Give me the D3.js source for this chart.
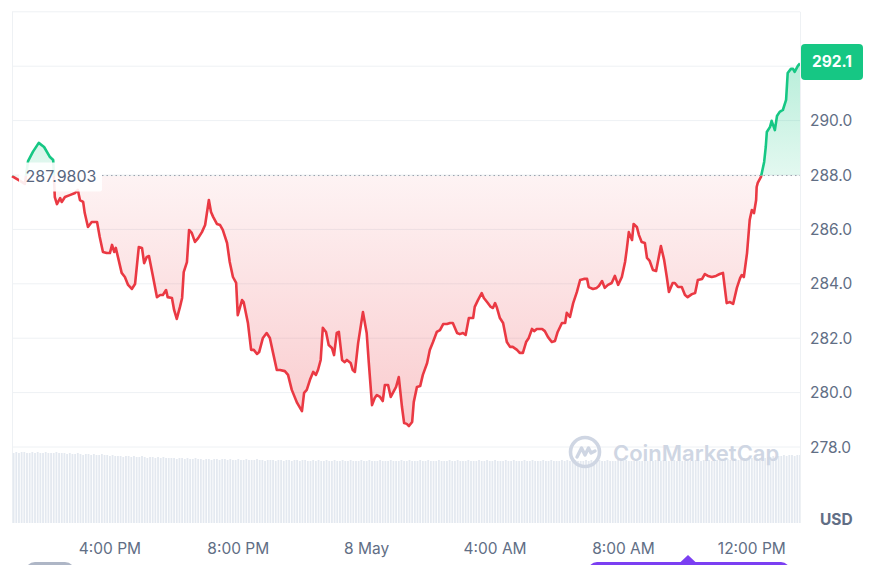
<!DOCTYPE html>
<html><head><meta charset="utf-8">
<script src="https://cdn.jsdelivr.net/npm/d3@7"></script>
<style>
html,body{margin:0;padding:0;background:#fff;}
svg{display:block;font-family:Inter,"Noto Sans",sans-serif;}
</style></head><body>
<svg id="chart" width="876" height="565"></svg>
<script>
// minutes after 7 May 12:00
const minutes = [57,72,81,87,96,107,117,128,134,137,141,147,150,156,165,175,180,184,190,193,199,206,216,221,227,234,240,244,248,251,255,262,268,274,281,287,294,300,304,309,313,320,328,334,339,345,348,356,360,365,371,375,378,384,388,393,399,405,412,418,425,429,433,440,446,451,459,464,470,476,479,487,490,498,504,509,515,519,526,533,539,545,552,558,567,573,580,590,599,603,608,614,620,625,629,634,638,644,649,655,659,664,668,674,679,683,690,694,698,704,713,720,724,730,735,739,745,750,754,760,765,769,775,780,786,790,795,799,805,808,814,820,825,833,838,844,851,857,863,870,876,881,889,894,900,905,911,919,922,928,935,939,945,952,956,960,963,969,975,982,988,993,1001,1006,1012,1018,1023,1029,1033,1038,1048,1053,1059,1066,1072,1077,1085,1091,1094,1100,1106,1113,1119,1126,1132,1135,1143,1150,1154,1160,1165,1171,1178,1184,1190,1197,1203,1206,1210,1216,1219,1225,1229,1234,1240,1244,1249,1255,1261,1270,1276,1281,1285,1292,1296,1302,1309,1315,1320,1328,1334,1339,1347,1352,1358,1365,1373,1380,1386,1393,1399,1405,1412,1418,1421,1425,1431,1436,1440,1444,1448,1449,1451,1457,1459,1463,1466,1468,1474,1477,1483,1487,1492,1498,1504,1507,1513,1517,1520,1526,1530];
const prices = [287.96,287.78,287.67,288.51,288.85,289.18,289.03,288.66,288.55,287.19,286.93,287.15,287.01,287.19,287.26,287.34,287.45,287.08,287.01,286.60,286.09,286.27,286.27,285.72,285.17,285.13,285.13,285.43,285.17,285.32,284.99,284.40,284.25,283.96,283.81,283.99,285.35,285.32,284.76,284.99,285.02,284.32,283.51,283.59,283.59,283.77,283.51,283.48,283.04,282.71,283.15,283.48,284.43,284.80,285.98,285.87,285.54,285.68,285.90,286.16,287.08,286.64,286.46,286.20,286.16,285.98,285.50,284.80,284.25,284.03,282.85,283.40,283.33,282.56,281.57,281.57,281.42,281.49,282.01,282.19,282.01,281.46,280.83,280.83,280.79,280.65,280.10,279.62,279.32,279.99,280.10,280.47,280.76,280.65,280.83,281.20,282.38,282.23,281.75,281.64,281.38,282.19,282.23,281.20,281.12,281.20,281.09,280.83,280.76,281.82,282.96,282.19,281.09,279.54,279.80,279.91,279.84,279.69,280.28,280.28,279.84,279.99,280.21,280.57,279.47,278.88,278.85,278.77,278.92,279.65,280.21,280.24,280.65,281.09,281.57,281.86,282.23,282.30,282.52,282.52,282.56,282.56,282.19,282.15,282.19,282.12,282.74,282.74,283.15,283.40,283.66,283.48,283.33,283.15,283.11,283.29,283.15,282.74,282.56,281.86,281.68,281.68,281.57,281.46,281.46,281.86,282.01,282.34,282.26,282.34,282.34,282.26,282.04,281.86,281.90,282.23,282.56,282.56,282.93,282.78,283.29,283.70,284.14,284.18,284.18,283.88,283.81,283.85,283.92,284.10,283.85,283.96,284.03,284.29,283.96,284.25,284.80,285.24,285.90,285.61,286.20,286.09,285.79,285.54,285.50,284.95,284.84,284.51,284.47,285.39,284.88,284.25,283.70,284.03,284.03,283.88,283.88,283.59,283.51,283.62,283.66,284.14,284.18,284.36,284.29,284.25,284.29,284.36,284.40,283.29,283.33,283.26,283.85,284.21,284.32,284.25,285.13,286.35,286.71,286.60,287.08,287.56,287.71,287.93,288.11,288.48,289.03,289.58,289.77,289.99,289.65,290.17,290.32,290.39,290.76,291.75,291.90,291.90,291.79,292.01,292.10];
// volume bars, every 5 minutes starting at minute 55
const volumes = [
71,70,71,70,71,71,70,70,71,70,71,70,70,71,70,70,70,71,70,70,
70,69,70,69,69,70,69,68,69,69,68,69,68,68,69,68,68,67,68,67,
67,67,66,67,67,66,67,66,66,67,66,65,66,66,65,66,65,66,65,65,
65,65,64,65,65,64,65,64,64,65,64,64,63,64,64,63,64,64,63,64,
64,63,64,63,63,64,63,63,64,63,63,63,64,63,63,62,63,63,63,62,
63,63,62,63,63,62,63,63,62,63,63,62,62,63,62,63,62,62,63,62,
62,63,62,62,63,62,62,63,62,62,62,63,62,62,63,62,62,62,63,62,
62,62,63,62,62,62,63,62,62,63,62,62,62,63,62,62,63,62,62,62,
63,62,62,62,63,62,62,63,62,62,62,63,62,62,62,63,62,62,63,62,
62,63,62,62,62,63,62,62,63,62,62,62,63,62,62,63,62,62,62,63,
62,62,63,62,62,62,63,62,63,62,62,63,62,62,62,63,62,63,62,62,
63,62,62,63,62,62,62,63,62,62,63,62,62,62,63,62,62,63,62,62,
62,63,62,62,63,62,62,62,63,62,63,62,62,63,62,62,63,63,62,63,
63,63,62,63,63,64,63,63,64,63,64,64,63,64,65,64,65,65,64,65,
65,66,65,66,66,67,66,67,67,68,67,68,68,67,68,68];
const volStart = 55, volStep = 5;
const baseline = 287.9803;
const lastPrice = 292.1;
const priceTicks = [278,280,282,284,286,288,290];
const gridTicks = [278,280,282,284,286,288,290,292,294];
const timeTickMinutes = [240,480,720,960,1200,1440];

const RED = "#ea3943", GREEN = "#16c784", TXT = "#616e85";
const svg = d3.select("#chart");
const t0 = new Date(2024,4,7,12,0);
const toDate = m => new Date(t0.getTime() + m*60000);
const data = minutes.map((m,i)=>({t:toDate(m), v:prices[i]})).filter(d=>d.v!==undefined);

const x = d3.scaleTime().domain([toDate(57), toDate(1530)]).range([12,800]);
const y = d3.scaleLinear().domain([278,294]).range([447,11.8]);
const yv = d3.scaleLinear().domain([0,70]).range([523,453]);
const yb = y(baseline);

const defs = svg.append("defs");
const gR = defs.append("linearGradient").attr("id","gRed").attr("gradientUnits","userSpaceOnUse")
  .attr("x1",0).attr("x2",0).attr("y1",yb).attr("y2",y(278.8));
gR.append("stop").attr("offset",0).attr("stop-color",RED).attr("stop-opacity",0.06);
gR.append("stop").attr("offset",1).attr("stop-color",RED).attr("stop-opacity",0.26);
const gG = defs.append("linearGradient").attr("id","gGreen").attr("gradientUnits","userSpaceOnUse")
  .attr("x1",0).attr("x2",0).attr("y1",y(292.1)).attr("y2",yb);
gG.append("stop").attr("offset",0).attr("stop-color",GREEN).attr("stop-opacity",0.3);
gG.append("stop").attr("offset",1).attr("stop-color",GREEN).attr("stop-opacity",0.12);
defs.append("clipPath").attr("id","cAbove").append("rect").attr("x",0).attr("y",0).attr("width",800).attr("height",yb);
defs.append("clipPath").attr("id","cBelow").append("rect").attr("x",0).attr("y",yb).attr("width",800).attr("height",565-yb);
defs.append("clipPath").attr("id","cPlot").append("rect").attr("x",12).attr("y",0).attr("width",788).attr("height",565);

// grid
svg.append("g").selectAll("line").data(gridTicks).join("line")
  .attr("x1",12).attr("x2",800).attr("y1",d=>y(d)).attr("y2",d=>y(d))
  .attr("stroke","#eef1f4").attr("stroke-width",1);
svg.append("line").attr("x1",12.5).attr("x2",12.5).attr("y1",y(294)).attr("y2",523).attr("stroke","#eef1f4");
svg.append("line").attr("x1",800.5).attr("x2",800.5).attr("y1",y(294)).attr("y2",523).attr("stroke","#eef1f4");

// volume
svg.append("g").attr("clip-path","url(#cPlot)").selectAll("rect").data(volumes).join("rect")
  .attr("x",(d,i)=>x(toDate(volStart+volStep*i))-0.9)
  .attr("width",1.8)
  .attr("y",d=>yv(d)).attr("height",d=>523-yv(d))
  .attr("fill","#e4e9f0");

// watermark
const wm = svg.append("g").attr("transform","translate(585,452)");
wm.append("circle").attr("r",14.5).attr("fill","none").attr("stroke","#cfd6e3").attr("stroke-width",3.6);
wm.append("path").attr("d","M-8,5 L-3.5,-4 L0,3 L3.5,-4 L6,1 L10,-1").attr("fill","none")
  .attr("stroke","#cfd6e3").attr("stroke-width",3.4).attr("stroke-linejoin","round").attr("stroke-linecap","round");
svg.append("text").attr("x",613).attr("y",461).attr("font-size",22).attr("font-weight",600)
  .attr("fill","#cfd6e3").text("CoinMarketCap");

// areas
const area = d3.area().x(d=>x(d.t)).y0(yb).y1(d=>y(d.v));
const line = d3.line().x(d=>x(d.t)).y(d=>y(d.v));
svg.append("path").datum(data).attr("d",area).attr("fill","url(#gRed)").attr("clip-path","url(#cBelow)");
svg.append("path").datum(data).attr("d",area).attr("fill","url(#gGreen)").attr("clip-path","url(#cAbove)");
svg.append("path").datum(data).attr("d",line).attr("fill","none").attr("stroke",RED).attr("stroke-width",2.6)
  .attr("stroke-linejoin","round").attr("clip-path","url(#cBelow)");
svg.append("path").datum(data).attr("d",line).attr("fill","none").attr("stroke",GREEN).attr("stroke-width",2.6)
  .attr("stroke-linejoin","round").attr("clip-path","url(#cAbove)");

// baseline
svg.append("line").attr("x1",102).attr("x2",800).attr("y1",yb).attr("y2",yb)
  .attr("stroke","#9aa1ad").attr("stroke-width",1).attr("stroke-dasharray","1.5,3");
svg.append("rect").attr("x",19).attr("y",yb-13).attr("width",83).attr("height",29).attr("rx",2)
  .attr("fill","#fff").attr("fill-opacity",0.9);
svg.append("text").attr("x",61).attr("y",yb+6.5).attr("text-anchor","middle").attr("font-size",16)
  .attr("fill","#58667e").text(d3.format(".4f")(baseline));

// right axis
svg.append("g").selectAll("text").data(priceTicks).join("text")
  .attr("x",810).attr("y",d=>y(d)+5.5).attr("font-size",15.5).attr("fill",TXT)
  .text(d=>d3.format(".1f")(d));
svg.append("rect").attr("x",801).attr("y",y(lastPrice)-19.5).attr("width",62).attr("height",36).attr("rx",4).attr("fill",GREEN);
svg.append("text").attr("x",832).attr("y",y(lastPrice)+4).attr("text-anchor","middle").attr("font-size",15.5)
  .attr("font-weight",700).attr("fill","#fff").text(d3.format(".1f")(lastPrice));
svg.append("text").attr("x",820).attr("y",525).attr("font-size",15.5).attr("font-weight",700).attr("fill",TXT).text("USD");

// x axis labels
const fmtT = d3.timeFormat("%-I:%M %p"), fmtD = d3.timeFormat("%-d %b");
svg.append("g").selectAll("text").data(timeTickMinutes.map(toDate)).join("text")
  .attr("x",d=>x(d)).attr("y",554).attr("text-anchor","middle").attr("font-size",15.5).attr("fill",TXT)
  .text(d=>d.getHours()===0 ? fmtD(d) : fmtT(d));

// bottom UI pieces
svg.append("rect").attr("x",25).attr("y",562).attr("width",50).attr("height",20).attr("rx",10).attr("fill","#aeb6c6");
svg.append("rect").attr("x",588).attr("y",562).attr("width",202).attr("height",20).attr("rx",9).attr("fill","#7b3ff2");
svg.append("path").attr("d","M680,562.5 L688,555 L696,562.5 Z").attr("fill","#7b3ff2");
</script>
</body></html>
